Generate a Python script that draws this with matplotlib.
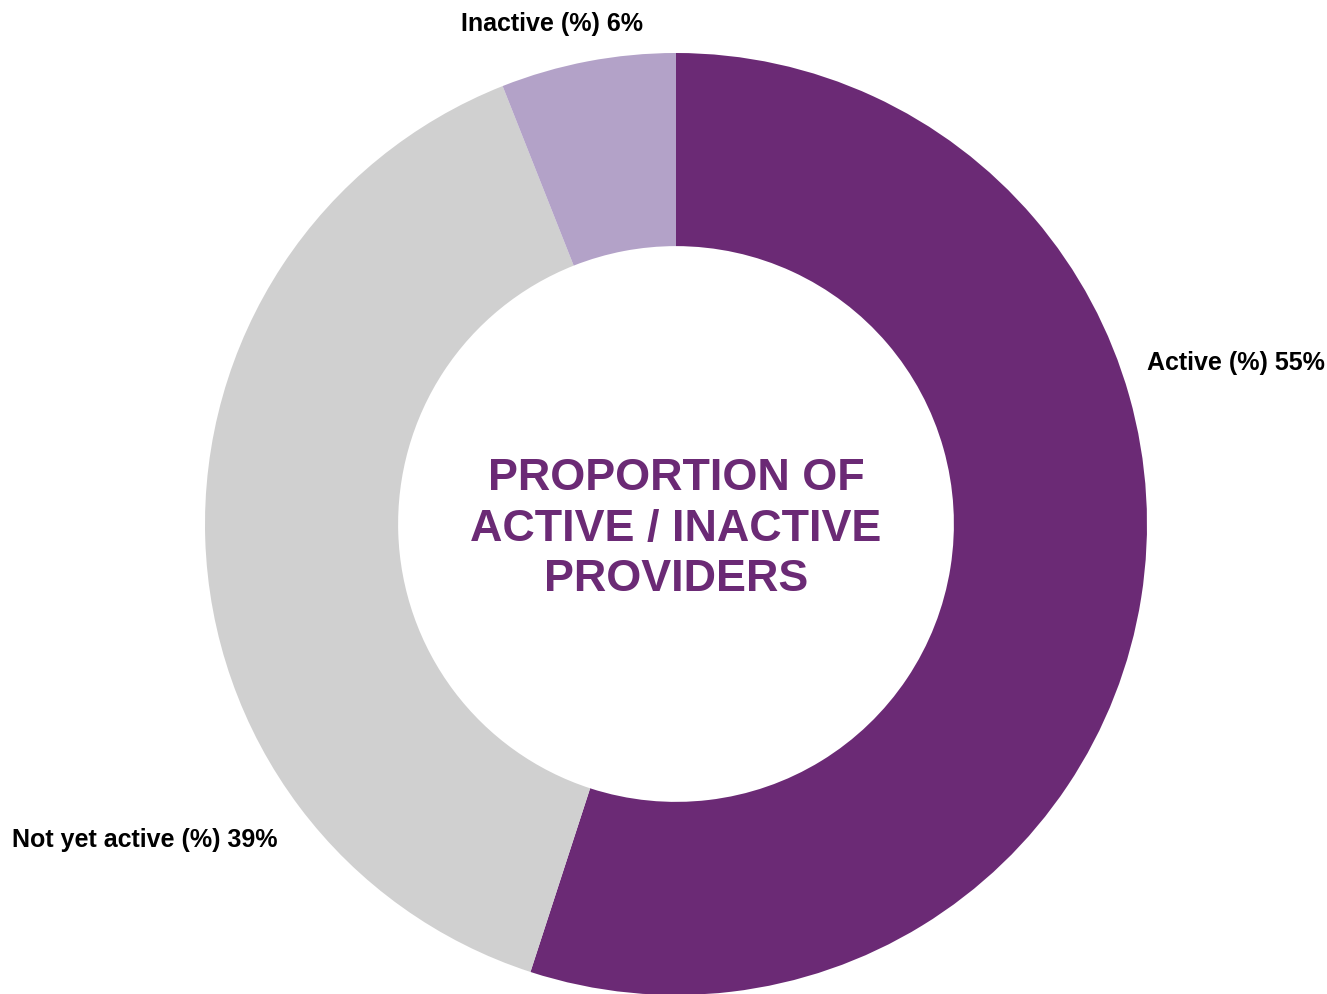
import matplotlib
matplotlib.use("Agg")
import matplotlib.pyplot as plt

categories = ["Active (%)", "Not yet active (%)", "Inactive (%)"]
values = [55, 39, 6]
colors = ["#6B2A75", "#D0D0D0", "#B3A2C8"]
title = "PROPORTION OF\nACTIVE / INACTIVE\nPROVIDERS"

plt.rcParams['font.family'] = ['Liberation Sans', 'DejaVu Sans']

W, H = 1327, 994
fig = plt.figure(figsize=(W / 100, H / 100), dpi=100)
ax = fig.add_axes([0, 0, 1, 1])
R = 471.0
cx, cy = 676.0, 470.0

ax.pie(values, colors=colors, startangle=90, counterclock=False, radius=1.0,
       wedgeprops=dict(width=0.41, edgecolor='none'))
ax.set_xlim(-cx / R, (W - cx) / R)
ax.set_ylim(-cy / R, (H - cy) / R)
ax.set_aspect('equal')
ax.axis('off')

label_pos = [((1147 - cx) / R, (524 - 363) / R, 'left'),
             ((277 - cx) / R, (524 - 840) / R, 'right'),
             ((552 - cx) / R, (524 - 24) / R, 'center')]
for cat, v, (x, y, ha) in zip(categories, values, label_pos):
    ax.text(x, y, f"{cat} {v}%", ha=ha, va='center', fontsize=18,
            fontweight='bold', color='black')

ax.text(0, (524 - 529) / R, title, ha='center', va='center', fontsize=32.3,
        fontweight='bold', color='#6B2A75', linespacing=1.3)

fig.savefig("out.png", dpi=100)
